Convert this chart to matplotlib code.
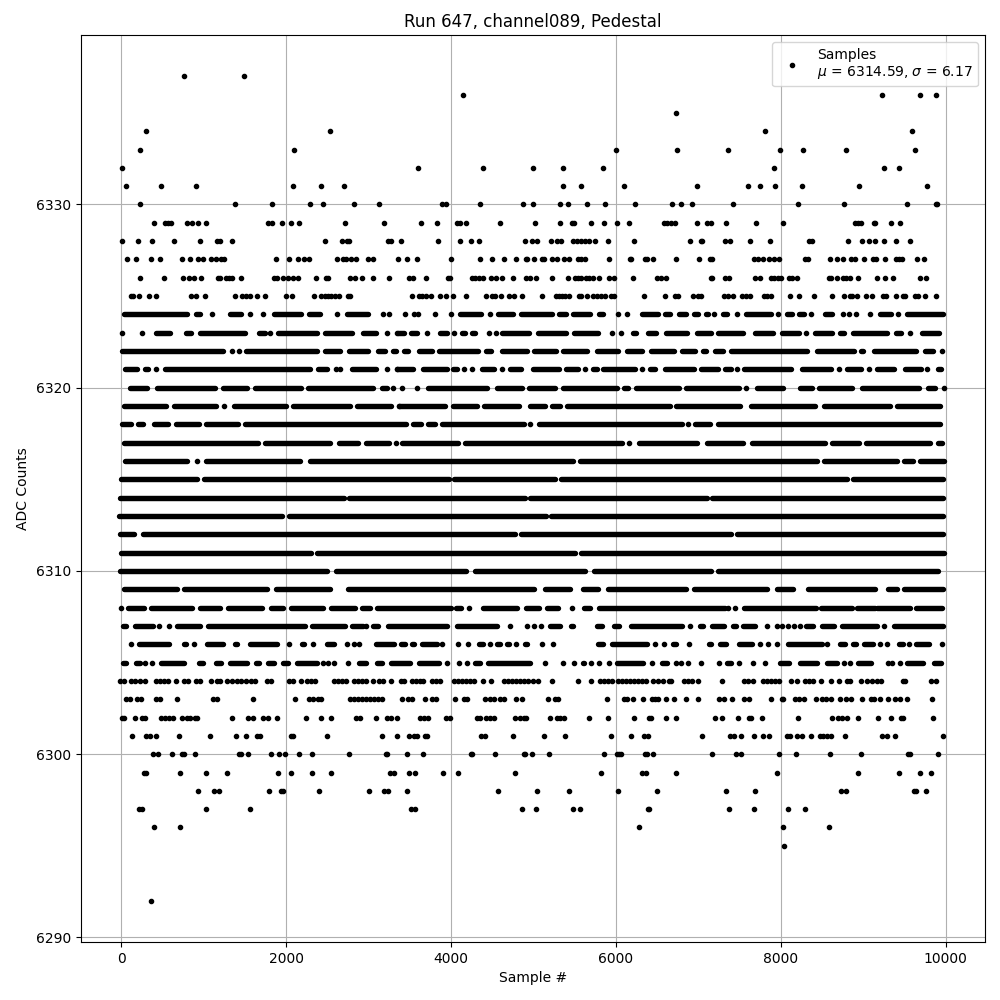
import matplotlib
matplotlib.use('Agg')
import matplotlib.pyplot as plt

# sample numbers per ADC level
# plain number = one dot, (a, b) = stretch where the dots touch each other
row_6337 = [764, 1491]
row_6336 = [4143, 9224, 9685, 9879]
row_6335 = [6725]
row_6334 = [303, 2533, 7806, 9588]
row_6333 = [230, 2097, 5998, 6745, 7358, 7988, 8267, 8788, 9624]
row_6332 = [12, 3598, 4386, 4992, 5355, 5840, 7915, 9248, 9430]
row_6331 = [61, 485, 909, 2085, 2424, 2703, 5355, 5573, 6095, 6982, 7600, 7745,
            7927, 8255, 8945, 9770]
row_6330 = [230, 1382, 1830, 2291, 2448, 2824, 3127, 3889, 3937, 4349, 4871, 4992,
            5319, 5416, 5646, 5864, 6228, 6677, 6788, 6921, 7418, 8206, 8764, 9527,
            9879, 9891]
row_6329 = [400, 533, 570, 606, 800, 860, 933, 1030, 1782, 1830, 1951, 2060, 2157,
            2715, 3188, 3634, 3828, 4071, 4107, 4180, 4592, 5016, 5319, 5465, 5489,
            5695, 5852, 6010, 6155, 6580, 6616, 6664, 6713, 6982, 7103, 7152, 7333,
            7697, 8024, 8897, 8933, 8970, 9127, 9139, 9333, 9442]
row_6328 = [12, 206, 376, 642, 957, 1163, 1200, 1345, 2472, 2679, 2739, 2763, 3236,
            3272, 3392, 3840, 4107, 4240, 4337, 4895, 4980, 5040, 5210, 5283, 5331,
            5477, 5525, 5573, 5622, 5670, 5743, 5901, 6216, 6897, 7030, 7042, 7321,
            7382, 7624, 7867, 8339, 8376, 8812, 8982, 9067, 9139, 9248, 9394, 9563]
row_6327 = [73, 182, 364, 473, 739, 836, 933, 994, 1091, 1151, 1212, 1248, 1879, 2036,
            2145, 2218, 2279, 2618, 2691, 2727, 2788, 2848, 2994, 3054, 3356, 3467,
            3590, 4000, 4349, 4495, 4640, 4786, 4907, 4919, 5004, 5101, 5125, 5222,
            5283, 5368, 5428, 5537, 5573, 5622, 5913, 6168, 6180, 6349, 6373, 6446,
            6727, 7006, 7139, 7164, 7673, 7721, 7782, 7855, 7915, 7976, 8291, 8327,
            8594, 8679, 8752, 8848, 8897, 9006, 9115, 9151, 9260, 9394, 9430, 9467,
            9648, 9733]
row_6326 = [230, 521, 751, 824, 885, 970, 1176, 1200, 1273, 1309, 1345, 1454, 1854,
            1891, 1963, 2024, 2085, 2145, 2363, 2485, 2509, 2775, 2836, 2921, 3054,
            3248, 3489, 3537, 3695, 3962, 3986, 4252, 4289, 4337, 4386, 4483, 4543,
            4616, 4750, 4907, 4955, 5028, 5222, 5416, 5501, 5537, 5573, 5634, 5670,
            5719, 5792, 5913, 5974, 6204, 6495, 6543, 6604, 7152, 7164, 7321, 7370,
            7685, 7745, 7879, 7915, 7964, 8000, 8097, 8133, 8194, 8582, 8606, 8679,
            8752, 8788, 8836, 8933, 9164, 9260, 9357, 9685, 9757]
row_6325 = [121, 145, 218, 339, 424, 848, 909, 1018, 1382, 1466, 1515, 1563, 1648, 1745,
            2000, 2073, 2339, 2424, 2472, 2509, 2545, 2594, 2642, 2751, 2775, 3525,
            3610, 3646, 3695, 3756, 3865, 3937, 4022, 4180, 4422, 4495, 4531, 4604,
            4701, 4761, 4858, 5101, 5271, 5307, 5343, 5380, 5428, 5549, 5573, 5646,
            5719, 5767, 5816, 5864, 5937, 5974, 6337, 6592, 6713, 6749, 6933, 6994,
            7030, 7309, 7358, 7418, 7527, 7576, 7624, 7794, 7830, 7879, 8109, 8218,
            8400, 8618, 8764, 8836, 8861, 8921, 9030, 9103, 9236, 9273, 9394, 9479,
            9503, 9624, 9660, 9745, 9879]
row_6324 = [(32, 796), (901, 957), 1095, (1321, 1450), 1563, 1713, (1850, 2178),
            (2275, 2404), 2610, (2735, 2990), 3175, 3248, 3440, 3550, 3598, 3804, 3998,
            (4103, 4358), 4471, (4563, 4745), (4846, 5218), (5303, 5392), (5477, 5683),
            (5788, 5844), 6022, 6131, (6309, 6511), (6596, 6652), (6760, 6845),
            (6942, 6990), (7087, 7115), 7188, (7293, 7341), 7463, (7572, 7875), 7964,
            (8069, 8129), (8214, 8275), 8364, (8529, 8622), 8751, 8824, 8909, 9079,
            (9196, 9329), 9418, (9535, 9963)]
row_6323 = [12, 255, (420, 586), (784, 844), (949, 1499), (1669, 1741), 1802, (1899, 2371),
            (2468, 2796), (2929, 3087), 3224, 3345, (3351, 3424), (3509, 3582), 3707,
            (3861, 3945), 4034, (4127, 4168), (4253, 4289), 4459, 4543, (4612, 4939),
            (5048, 5388), (5485, 5776), 5949, 6058, (6200, 6248), (6382, 6479),
            (6604, 6857), (6978, 7148), (7232, 7535), (7689, 7899), (8012, 8214), 8303,
            (8408, 8614), (8711, 8760), (8869, 9281), (9390, 9462), 9563, (9705, 9923)]
row_6322 = [(12, 1232), 1345, 1430, (1507, 2371), (2468, 2650), (2759, 2990), (3119, 3200),
            (3297, 3327), (3424, 3473), (3614, 3764), (3848, 4321), (4418, 4479),
            (4612, 4915), (5000, 5267), (5351, 5642), (5764, 6018), (6139, 6321),
            (6422, 6703), (6796, 6954), (7050, 7087), (7196, 7293), (7390, 8311),
            (8432, 8881), (8966, 8990), (9123, 9644), (9753, 9850), 9951]
row_6321 = [(44, 190), (287, 327), 424, (529, 2287), (2384, 2493), 2606, 2654, (2800, 3087),
            3224, 3345, (3340, 3534), (3655, 3945), (4018, 4067), 4152, 4253, (4370, 4515),
            4612, (4709, 4842), (4988, 5303), (5388, 5533), 5622, (5715, 5764), (5848, 6236),
            6313, (6410, 6467), (6590, 6941), (7030, 7232), (7317, 7390), 7471, (7547, 8117),
            (8250, 8602), 8699, (8796, 8966), 9063, (9160, 9366), (9499, 9693), 9774,
            (9899, 9947)]
row_6320 = [(101, 311), (432, 1135), (1232, 1523), (1620, 2178), (2262, 3050), (3159, 3220),
            3297, 3404, 3586, (3715, 4430), (4551, 4854), (4939, 5255), (5351, 6006),
            (6091, 6151), (6248, 6760), (6845, 7487), 7576, (7705, 8020), (8226, 8372),
            (8456, 8856), (8978, 9669), (9778, 9863), 9976]
row_6319 = [(32, 541), (638, 1147), 1244, (1366, 1996), (2081, 2771), (2856, 3268), 3365,
            (3363, 3921), (4018, 4309), (4394, 4818), (4951, 5133), (5218, 5315), (5400, 6650),
            (6723, 7499), (7632, 8408), (8517, 9317), (9402, 9935)]
row_6318 = [(8, 117), (202, 263), (396, 566), (663, 941), (1026, 1414), (1499, 3449),
            (3533, 3630), (3715, 3800), (3885, 4879), 4955, (5061, 6796), 6873, (6954, 7135),
            (7232, 9927)]
row_6317 = [(32, 1656), (1741, 2529), (2638, 2868), (2965, 3244), 3333, (3400, 4079),
            (4164, 6067), 6163, (6273, 6978), (7099, 7535), (7644, 8529), (8614, 8941),
            (9026, 9814), (9899, 9959)]
row_6316 = [(44, 796), 921, (1026, 2165), (2287, 5473), (5557, 8432), (8517, 9402),
            (9487, 9596), (9681, 9972)]
row_6315 = [(0, 920), (1000, 3980), (4040, 5260), (5330, 8800), (8870, 9970)]
row_6314 = [(-10, 2700), (2760, 4900), (4960, 7100), (7170, 9970)]
row_6313 = [(-30, 1950), (2030, 5150), (5210, 9970)]
row_6312 = [(-10, 150), (260, 4780), (4850, 7400), (7470, 9970)]
row_6311 = [(0, 2300), (2370, 5500), (5570, 9975)]
row_6310 = [(-10, 2500), (2600, 4180), (4290, 5620), (5730, 7150), (7240, 9900)]
row_6309 = [(32, 675), (760, 1765), (1879, 2533), (2747, 5000), (5133, 5444), (5600, 5780),
            (5897, 6850), (6950, 7826), (7952, 8141), (8323, 9139), (9293, 9402), (9491, 9960)]
row_6308 = [0, (81, 275), (360, 856), (953, 1196), (1293, 1705), (1814, 1959), (2056, 2444),
            (2541, 2832), (2917, 3014), (3103, 3999), (4059, 4115), 4212, (4382, 4794),
            (4903, 5060), (5157, 5291), 5465, (5606, 5679), (5788, 7317), 7358, 7442,
            (7547, 8430), (8480, 8860), (8920, 9140), (9170, 9560), (9640, 9950)]
row_6307 = [(20, 57), (166, 384), 461, 582, (675, 953), (1050, 2230), (2311, 2711), (2800, 2933),
            2973, (3050, 3111), (3232, 3945), (4067, 4551), 4709, 4915, 5004, 5093, (5194, 5315),
            (5448, 5473), (5764, 5824), (5970, 6042), (6176, 6796), 6897, (7014, 7050),
            (7160, 7305), (7414, 7451), (7535, 7681), 7826, 7952, 8012, 8085, 8158, 8230,
            (8303, 8384), (8493, 8638), (8735, 9160), 9248, (9366, 9963)]
row_6306 = [121, (214, 578), (760, 784), 881, (1038, 1236), (1378, 1402), (1560, 1887), 2032,
            (2190, 2214), 2327, (2493, 2578), 2739, 2824, 2885, (3091, 3303), (3395, 3440),
            (3521, 3546), (3642, 3824), 3889, 4083, 4204, (4333, 4382), 4475, (4551, 4592),
            (4673, 4705), 4786, (4891, 4915), 5101, 5234, (5776, 5848), (5957, 6370), 6470,
            6580, (6697, 6724), 6885, (7123, 7148), (7257, 7329), (7487, 7645), 7745, 7846,
            7947, (8081, 8493), 8557, (8711, 8772), (8869, 8905), (9002, 9115), 9200, 9285,
            (9438, 9475), 9551, (9644, 9790), 9951]
row_6305 = [(20, 57), (178, 226), 291, 376, (481, 760), (941, 990), (1147, 1208), (1317, 1523),
            (1632, 1669), (1778, 1850), (1960, 2020), (2129, 2371), 2448, 2509, 2578, 2751,
            (2880, 2965), (3098, 3159), (3268, 3501), (3606, 3849), 3950, 4095, 4192,
            (4289, 4345), (4451, 4955), 5137, 5355, 5493, (5594, 5610), 5695, 5792, 5913,
            (6006, 6327), 6434, (6563, 6624), 6733, 6784, 6873, 7030, 7249, (7341, 7390), 7491,
            7661, 7802, (7988, 8093), (8226, 8432), (8554, 8675), 8760, 8836, (8929, 9087),
            9297, 9345, 9442, (9535, 9717), (9862, 9947)]
row_6304 = [-12, 36, 121, 170, 230, 291, 424, 473, 521, 570, 667, 764, 812, 909, 953, 1091, 1163,
            1200, 1285, 1341, 1398, 1454, 1511, 1568, 1624, 1761, 1810, 2036, 2085, 2182, 2254,
            2303, 2351, 2582, 2630, 2679, 2727, 2824, 2872, 2921, 2973, 3054, 3127, 3175, 3272,
            3392, 3428, 3525, 3574, 3622, 3659, 3768, 3816, 3865, 4034, 4083, 4131, 4180, 4228,
            4277, 4386, 4487, 4640, 4689, 4737, 4786, 4834, 4883, 4931, 4992, 5052, 5222, 5537,
            5695, 5804, 5852, 5901, 5949, 6022, 6071, 6119, 6168, 6216, 6265, 6313, 6361, 6446,
            6507, 6568, 6640, 6671, 6824, 6873, 6921, 6994, 7285, 7552, 7600, 7661, 7782, 7830,
            7879, 7927, 7976, 8121, 8194, 8291, 8339, 8388, 8485, 8606, 8703, 8800, 8836, 8970,
            9042, 9103, 9164, 9212, 9479, 9503, 9818, 9879]
row_6303 = [61, 109, 194, 242, 424, 473, 679, 1115, 1163, 1600, 2109, 2279, 2327, 2388, 2424,
            2775, 2824, 2872, 2921, 2970, 3018, 3067, 3115, 3163, 3404, 3477, 3529, 3683, 3768,
            3816, 4046, 4156, 4192, 4410, 4471, 4519, 4592, 4640, 4786, 4858, 5174, 5259, 5295,
            5889, 6095, 6131, 6204, 6325, 6434, 6471, 6507, 6604, 6706, 6851, 6994, 7249, 7309,
            7406, 7552, 7612, 7879, 8012, 8024, 8170, 8218, 8279, 8424, 8497, 8545, 8606, 8715,
            8788, 8848, 8982, 9091, 9127, 9200, 9297, 9382, 9442, 9527, 9830]
row_6302 = [12, 36, 170, 255, 291, 485, 533, 582, 630, 739, 800, 836, 897, 921, 1345, 1539, 1600,
            1721, 1782, 1891, 2242, 2424, 2545, 2848, 2897, 3091, 3224, 3272, 3345, 3622, 3671,
            3719, 3937, 3990, 4313, 4349, 4422, 4471, 4519, 4774, 4834, 4883, 4907, 5198, 5283,
            5319, 5368, 5670, 5901, 6216, 6398, 6422, 6604, 6725, 7200, 7285, 7479, 7612, 7636,
            7770, 8206, 8618, 8691, 8739, 8800, 8933, 9176, 9333, 9454, 9479, 9842]
row_6301 = [133, 303, 352, 424, 703, 1079, 1394, 1515, 1648, 1685, 2060, 2085, 2497, 3163, 3345,
            3489, 3550, 3586, 3683, 3703, 4362, 4410, 4750, 5125, 5380, 5937, 6180, 6337, 6386,
            7042, 7382, 7430, 7515, 7673, 7782, 7855, 8073, 8109, 8194, 8255, 8364, 8473, 8509,
            8558, 8606, 8776, 9224, 9285, 9382, 9964]
row_6300 = [388, 448, 618, 739, 760, 897, 1430, 1446, 1539, 1818, 1915, 1988, 2157, 2315, 2763,
            3212, 3224, 3465, 3659, 4240, 4253, 4531, 4883, 4895, 4980, 5186, 5852, 6010, 6034,
            6058, 6349, 6373, 6446, 7164, 7455, 7515, 7976, 8182, 8594, 8970, 9539, 9564, 9903]
row_6299 = [279, 303, 715, 1030, 1285, 1903, 2060, 2315, 2545, 3260, 3309, 3489, 3562, 3901, 4083,
            4774, 5816, 6313, 6362, 6725, 7952, 8933, 9430, 9685, 9818]
row_6298 = [933, 1127, 1188, 1794, 1939, 1963, 2400, 3006, 3188, 3236, 3465, 4568, 5040, 5428, 6022,
            6495, 7333, 7685, 8727, 8788, 9612, 9636, 9757]
row_6297 = [218, 255, 1030, 1563, 3513, 3562, 4858, 5028, 5477, 5562, 6386, 6398, 7370, 7673, 8085, 8291]
row_6296 = [400, 715, 6277, 8024, 8582]
row_6295 = [8036]
row_6292 = [364]

levels = [6337, 6336, 6335, 6334, 6333, 6332, 6331, 6330, 6329, 6328, 6327, 6326, 6325, 6324,
          6323, 6322, 6321, 6320, 6319, 6318, 6317, 6316, 6315, 6314, 6313, 6312, 6311, 6310,
          6309, 6308, 6307, 6306, 6305, 6304, 6303, 6302, 6301, 6300, 6299, 6298, 6297, 6296,
          6295, 6292]
rows = [row_6337, row_6336, row_6335, row_6334, row_6333, row_6332, row_6331, row_6330, row_6329,
        row_6328, row_6327, row_6326, row_6325, row_6324, row_6323, row_6322, row_6321, row_6320,
        row_6319, row_6318, row_6317, row_6316, row_6315, row_6314, row_6313, row_6312, row_6311,
        row_6310, row_6309, row_6308, row_6307, row_6306, row_6305, row_6304, row_6303, row_6302,
        row_6301, row_6300, row_6299, row_6298, row_6297, row_6296, row_6295, row_6292]

fig = plt.figure(figsize=(10, 10), dpi=100)
ax1 = fig.add_subplot(1, 1, 1)

xs = []
ys = []
for level, row in zip(levels, rows):
    for item in row:
        if isinstance(item, tuple):
            ax1.plot(item, (level, level), color='k', lw=3.9, solid_capstyle='round')
        else:
            xs.append(item)
            ys.append(level)

ax1.plot(xs, ys, 'k.', label='Samples\n$\\mu$ = 6314.59, $\\sigma$ = 6.17')

ax1.set_xlim(-489, 10475)
ax1.set_xticks([0, 2000, 4000, 6000, 8000, 10000])
ax1.set_yticks([6290, 6300, 6310, 6320, 6330])
ax1.ticklabel_format(useOffset=False, axis='y')
ax1.set_title('Run 647, channel089, Pedestal')
ax1.set_xlabel('Sample #')
ax1.set_ylabel('ADC Counts')
ax1.grid()
ax1.legend(loc='upper right')
fig.subplots_adjust(left=0.081, right=0.985, bottom=0.058, top=0.965)
fig.savefig('out.png')
